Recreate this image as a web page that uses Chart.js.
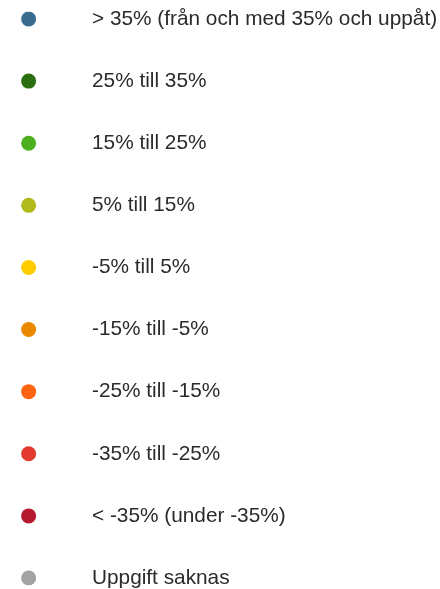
<!DOCTYPE html>
<html>
<head>
<meta charset="utf-8">
<script src="https://cdn.jsdelivr.net/npm/chart.js@4"></script>
<style>
  html, body { margin: 0; padding: 0; background: #fff; }
  #wrap { width: 440px; height: 589px; position: relative; }
</style>
</head>
<body>
<div id="wrap"><canvas id="legend"></canvas></div>
<script>
// legend classes, top to bottom
const categories = [
  "> 35% (från och med 35% och uppåt)",
  "25% till 35%",
  "15% till 25%",
  "5% till 15%",
  "-5% till 5%",
  "-15% till -5%",
  "-25% till -15%",
  "-35% till -25%",
  "< -35% (under -35%)",
  "Uppgift saknas",
];
const dotColors = [
  "#386b8e", "#2b6e10", "#4cb01f", "#b1ba1b", "#ffcc00",
  "#ec8700", "#ff6510", "#e23a2e", "#b4192f", "#a3a3a3",
];

const ctx = document.getElementById("legend");
new Chart(ctx, {
  type: "scatter",
  data: {
    datasets: [
      {
        data: categories.map((c) => ({ x: 0, y: c })),
        pointBackgroundColor: dotColors,
        pointBorderWidth: 0,
        pointRadius: 7.5,
        pointHoverRadius: 7.5,
      },
    ],
  },
  options: {
    responsive: true,
    maintainAspectRatio: false,
    animation: false,
    events: [],
    layout: { padding: { top: 19, bottom: 11, left: 0, right: 0 } },
    scales: {
      x: { type: "linear", min: -21, max: 51, display: false },
      y: {
        type: "category",
        labels: categories,
        position: "right",
        offset: false,
        grid: { display: false, drawTicks: false },
        border: { display: false },
        ticks: {
          padding: 12,
          color: "#2b2b2b",
          font: { family: "'Liberation Sans', Arial, sans-serif", size: 20.8 },
        },
        afterFit(scale) {
          // fixed label column, no extra edge padding from the labels
          scale.width = 360;
          scale.paddingTop = 0;
          scale.paddingBottom = 0;
          scale.paddingLeft = 0;
          scale.paddingRight = 0;
        },
      },
    },
    plugins: { legend: { display: false }, tooltip: { enabled: false } },
  },
});
</script>
</body>
</html>
